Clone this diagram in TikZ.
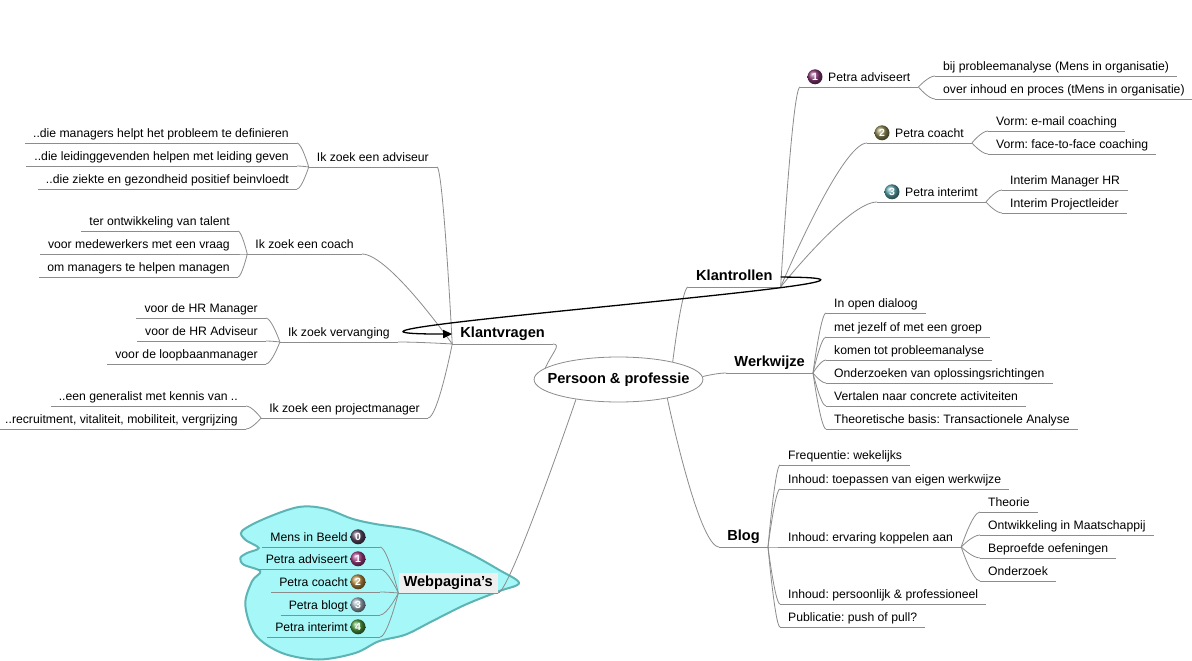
\documentclass[tikz,border=0pt]{standalone}
\usepackage{fontspec}
\setmainfont{Liberation Sans}
\frenchspacing
\usetikzlibrary{shapes.geometric,calc,arrows.meta}
\definecolor{linegray}{HTML}{8C8C8C}
\definecolor{cloudfill}{HTML}{A6F7F7}
\definecolor{cloudline}{HTML}{5CB4B4}
\definecolor{webbg}{HTML}{EFEFEF}
\definecolor{icoA}{HTML}{8B3B78}
\definecolor{icoB}{HTML}{8F8B55}
\definecolor{icoC}{HTML}{5AA5AE}
\definecolor{wA}{HTML}{5B4B63}
\definecolor{wB}{HTML}{A63F86}
\definecolor{wC}{HTML}{B98A3E}
\definecolor{wD}{HTML}{9EB0BA}
\definecolor{wE}{HTML}{4C9A3F}
\newcommand\conn[3][0.4]{\draw[conn] let \p1=(#2), \p2=(#3) in (\p1) .. controls (\p1) and ({\x2+#1*(\x1-\x2)},\y2) .. (\p2);}
\newcommand\undl[1]{\draw[conn] (#1.south west) -- (#1.south east);}
\newcommand\gap{\rule{24pt}{0pt}}
\tikzset{
  conn/.style={draw=linegray, line width=0.8pt},
  txt/.style={font=\fontsize{12.2}{14}\selectfont, text height=9pt, text depth=2.6pt, inner xsep=8pt, inner ysep=3pt},
  btxt/.style={font=\fontsize{14.6}{17}\selectfont\bfseries, text height=10.5pt, text depth=3pt, inner xsep=8pt, inner ysep=3pt},
  L/.style={txt, anchor=south east},
  R/.style={txt, anchor=south west},
  iconst/.style={circle, inner sep=0pt, minimum size=15pt, text=white,
     font=\fontsize{10.5}{10.5}\selectfont\bfseries, text height=7.5pt, text depth=0pt},
}
\begin{document}
\begin{tikzpicture}[x=1pt,y=-1pt]
\useasboundingbox (0,0) rectangle (1192,661);
\fill[white] (0,0) rectangle (1192,661);
% cloud behind Webpagina's
\draw[fill=cloudfill, draw=cloudline, line width=2pt]
  plot[smooth cycle, tension=0.55] coordinates {
  (242,531) (265,518.5) (298.7,507) (325.3,508.7) (352,518.7) (375.3,524)
  (418.7,531.3) (465.3,551.3) (498.7,569.7) (519,583) (498.7,591.3)
  (465.3,604.7) (432,621.3) (405.3,634.7) (378.7,641.3) (355.3,653)
  (318.7,659.5) (282,653) (255.3,634.7) (245.3,604.7) (252,581.3)
  (260.3,571.3) (243.7,564.7) (240.3,558) (247,553) (258.7,548) (245.3,539.7)};

% central node
\node[btxt, ellipse, draw=linegray, line width=0.8pt, fill=white, inner xsep=-11.3pt, inner ysep=2pt,
      minimum height=45pt] (center) at (618.5,379.5) {Persoon \& professie};

% ---------- Klantrollen ----------
\node[btxt, anchor=south west] (krol) at (688,287) {Klantrollen};
\node[R] (padv) at (800,87) {\hspace{20pt}Petra adviseert};
\node[iconst, ball color=icoA] (padvi) at ($(padv.base west)+(15,-4.4)$) {1};
\node[R] (padva) at (935,76) {bij probleemanalyse (Mens in organisatie)};
\node[R] (padvb) at (935,99) {over inhoud en proces (tMens in organisatie)};
\node[R] (pcoa) at (867,143) {\hspace{20pt}Petra coacht};
\node[iconst, ball color=icoB] (pcoai) at ($(pcoa.base west)+(15,-4.4)$) {2};
\node[R] (pcoaa) at (988,131) {Vorm: e-mail coaching};
\node[R] (pcoab) at (988,154) {Vorm: face-to-face coaching};
\node[R] (pint) at (877,202) {\hspace{20pt}Petra interimt};
\node[iconst, ball color=icoC] (pinti) at ($(pint.base west)+(15,-4.4)$) {3};
\node[R] (pinta) at (1002,190) {Interim Manager HR};
\node[R] (pintb) at (1002,213) {Interim Projectleider};

% ---------- Werkwijze ----------
\node[btxt, anchor=south east] (werk) at (813,373) {Werkwijze};
\node[R] (wa) at (826,313) {In open dialoog};
\node[R] (wb) at (826,337) {met jezelf of met een groep};
\node[R] (wc) at (826,360) {komen tot probleemanalyse};
\node[R] (wd) at (826,383) {Onderzoeken van oplossingsrichtingen};
\node[R] (we) at (826,406) {Vertalen naar concrete activiteiten};
\node[R] (wf) at (826,429) {Theoretische basis: Transactionele Analyse};

% ---------- Blog ----------
\node[btxt, anchor=south east] (blog) at (768,547) {Blog};
\node[R] (ba) at (780,465) {Frequentie: wekelijks};
\node[R] (bb) at (780,489) {Inhoud: toepassen van eigen werkwijze};
\node[R] (bc) at (780,547) {Inhoud: ervaring koppelen aan};
\node[R] (bd) at (780,604) {Inhoud: persoonlijk \& professioneel};
\node[R] (be) at (780,627) {Publicatie: push of pull?};
\node[R] (bca) at (980,512) {Theorie};
\node[R] (bcb) at (980,535) {Ontwikkeling in Maatschappij};
\node[R] (bcc) at (980,558) {Beproefde oefeningen};
\node[R] (bcd) at (980,581) {Onderzoek};

% ---------- Klantvragen ----------
\node[btxt, anchor=south east] (kvr) at (553,344) {Klantvragen};
\node[L] (adv) at (437,167) {Ik zoek een adviseur};
\node[L] (adva) at (297,143) {..die managers helpt het probleem te definieren};
\node[L] (advb) at (297,166) {..die leidinggevenden helpen met leiding geven};
\node[L] (advc) at (297,189) {..die ziekte en gezondheid positief beinvloedt};
\node[L] (coa) at (362,254) {Ik zoek een coach};
\node[L] (coaa) at (238,231) {ter ontwikkeling van talent};
\node[L] (coab) at (238,254) {voor medewerkers met een vraag};
\node[L] (coac) at (238,277) {om managers te helpen managen};
\node[L] (ver) at (398,342) {Ik zoek vervanging};
\node[L] (vera) at (266,318) {voor de HR Manager};
\node[L] (verb) at (266,341) {voor de HR Adviseur};
\node[L] (verc) at (266,364) {voor de loopbaanmanager};
\node[L] (pm) at (428,418) {Ik zoek een projectmanager};
\node[L] (pma) at (246,406) {..een generalist met kennis van ..};
\node[L] (pmb) at (246,429) {..recruitment, vitaliteit, mobiliteit, vergrijzing};

% ---------- Webpagina's ----------
\node[btxt, anchor=south east, fill=webbg, inner xsep=5pt] (web) at (498,593) {Webpagina's};
\node[L] (wpa) at (380,547) {Mens in Beeld\gap};
\node[L] (wpb) at (380,569) {Petra adviseert\gap};
\node[L] (wpc) at (380,592) {Petra coacht\gap};
\node[L] (wpd) at (380,615) {Petra blogt\gap};
\node[L] (wpe) at (380,637) {Petra interimt\gap};
\node[iconst, ball color=wA] (wpai) at ($(wpa.base east)+(-22,-4.4)$) {0};
\node[iconst, ball color=wB] (wpbi) at ($(wpb.base east)+(-22,-4.4)$) {1};
\node[iconst, ball color=wC] (wpci) at ($(wpc.base east)+(-22,-4.4)$) {2};
\node[iconst, ball color=wD] (wpdi) at ($(wpd.base east)+(-22,-4.4)$) {3};
\node[iconst, ball color=wE] (wpei) at ($(wpe.base east)+(-22,-4.4)$) {4};

% underlines
\foreach \nm in {krol,padv,padva,padvb,pcoa,pcoaa,pcoab,pint,pinta,pintb,
  werk,wa,wb,wc,wd,we,wf,blog,ba,bb,bc,bd,be,bca,bcb,bcc,bcd,
  kvr,adv,adva,advb,advc,coa,coaa,coab,coac,ver,vera,verb,verc,pm,pma,pmb,
  web,wpa,wpb,wpc,wpd,wpe}{\undl{\nm}}

% connectors from the centre
\draw[conn] (center.171) .. controls +(6,-14) and +(9,0) .. (kvr.south east);
\conn{center.18}{krol.south west}
\conn{center.2}{werk.south west}
\conn{center.-21}{blog.south west}
\conn[0.15]{center.205}{web.south east}

% Klantrollen branches
\conn{krol.south east}{padv.south west}
\conn[0.3]{krol.south east}{pcoa.south west}
\conn[0.3]{krol.south east}{pint.south west}
\conn{padv.south east}{padva.south west}
\conn{padv.south east}{padvb.south west}
\conn{pcoa.south east}{pcoaa.south west}
\conn{pcoa.south east}{pcoab.south west}
\conn{pint.south east}{pinta.south west}
\conn{pint.south east}{pintb.south west}

% Werkwijze branches
\foreach \nm in {wa,wb,wc,wd,we,wf}{\conn{werk.south east}{\nm.south west}}
% Blog branches
\foreach \nm in {ba,bb,bc,bd,be}{\conn{blog.south east}{\nm.south west}}
\foreach \nm in {bca,bcb,bcc,bcd}{\conn{bc.south east}{\nm.south west}}

% Klantvragen branches
\conn{kvr.south west}{adv.south east}
\conn[0.3]{kvr.south west}{coa.south east}
\conn{kvr.south west}{ver.south east}
\conn{kvr.south west}{pm.south east}
\foreach \nm in {adva,advb,advc}{\conn{adv.south west}{\nm.south east}}
\foreach \nm in {coaa,coab,coac}{\conn{coa.south west}{\nm.south east}}
\foreach \nm in {vera,verb,verc}{\conn{ver.south west}{\nm.south east}}
\foreach \nm in {pma,pmb}{\conn{pm.south west}{\nm.south east}}

% Webpagina's branches
\foreach \nm in {wpa,wpb,wpc,wpd,wpe}{\conn{web.south west}{\nm.south east}}

% relation arrow Klantrollen -> Klantvragen
\draw[line width=1.3pt, -{Triangle[length=9pt,width=8pt]}]
  (krol.east) .. controls +(222,1) and +(-232,0) .. (kvr.west);
\end{tikzpicture}
\end{document}
